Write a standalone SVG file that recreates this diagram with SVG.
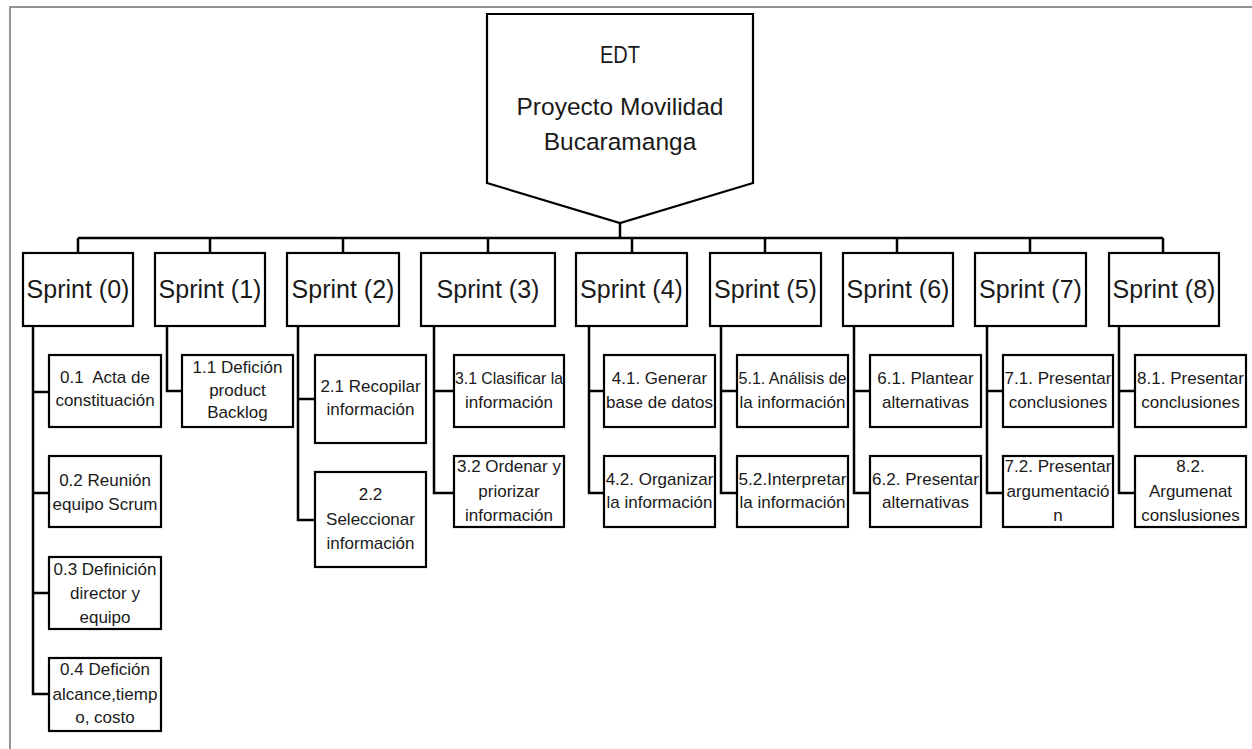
<svg xmlns="http://www.w3.org/2000/svg" width="1252" height="749" viewBox="0 0 1252 749">
<style>
.bg{fill:#fff}
.frame{fill:none;stroke:#707070;stroke-width:1.5}
.box{fill:#fff;stroke:#000;stroke-width:2.2}
.conn{fill:none;stroke:#000;stroke-width:2.5}
.t{font-family:"Liberation Sans",Arial,sans-serif;fill:#1a1a1a;text-anchor:middle}
.sp{font-size:25px}
.root{font-size:24.5px}
.c{font-size:17px}
</style>
<rect class="bg" x="0" y="0" width="1252" height="749"/>
<path class="frame" d="M10 749 V7 H1252"/>

<g id="connectors">
<path class="conn" d="M620 223 V238 M78 238 H1163 M78 238 V253 M210 238 V253 M343 238 V253 M488 238 V253 M632 238 V253 M765 238 V253 M897 238 V253 M1030 238 V253 M1163 238 V253"/>
<path class="conn" d="M33 326 V694 H49 M33 392 H49 M33 493 H49 M33 593 H49"/>
<path class="conn" d="M167 326 V391 H182"/>
<path class="conn" d="M298 326 V520 H315 M298 399 H315"/>
<path class="conn" d="M434 326 V493 H454 M434 391 H454"/>
<path class="conn" d="M589 326 V493 H604 M589 391 H604"/>
<path class="conn" d="M721 326 V493 H737 M721 391 H737"/>
<path class="conn" d="M854 326 V493 H870 M854 391 H870"/>
<path class="conn" d="M987 326 V493 H1003 M987 391 H1003"/>
<path class="conn" d="M1119 326 V493 H1135 M1119 391 H1135"/>
</g>

<g id="root">
<polygon class="box" points="487,14 753,14 753,183 620,223 487,183"/>
<text class="t root" x="620" y="63" textLength="40" lengthAdjust="spacingAndGlyphs">EDT</text>
<text class="t root" x="620" y="115">Proyecto Movilidad</text>
<text class="t root" x="620" y="150">Bucaramanga</text>
</g>

<g id="sprint0"><rect class="box" x="23" y="253" width="110" height="73"/><text class="t sp" x="78" y="298">Sprint (0)</text></g>
<g id="sprint1"><rect class="box" x="155" y="253" width="110" height="73"/><text class="t sp" x="210" y="298">Sprint (1)</text></g>
<g id="sprint2"><rect class="box" x="287" y="253" width="112" height="73"/><text class="t sp" x="343" y="298">Sprint (2)</text></g>
<g id="sprint3"><rect class="box" x="421" y="253" width="134" height="73"/><text class="t sp" x="488" y="298">Sprint (3)</text></g>
<g id="sprint4"><rect class="box" x="576" y="253" width="111" height="73"/><text class="t sp" x="631.5" y="298">Sprint (4)</text></g>
<g id="sprint5"><rect class="box" x="710" y="253" width="111" height="73"/><text class="t sp" x="765.5" y="298">Sprint (5)</text></g>
<g id="sprint6"><rect class="box" x="843" y="253" width="110" height="73"/><text class="t sp" x="898" y="298">Sprint (6)</text></g>
<g id="sprint7"><rect class="box" x="975" y="253" width="111" height="73"/><text class="t sp" x="1030.5" y="298">Sprint (7)</text></g>
<g id="sprint8"><rect class="box" x="1109" y="253" width="110" height="73"/><text class="t sp" x="1164" y="298">Sprint (8)</text></g>

<g id="t0_1"><rect class="box" x="49" y="355" width="112" height="72"/><text class="t c" x="105" y="383" xml:space="preserve">0.1  Acta de</text><text class="t c" x="105" y="406">constituación</text></g>
<g id="t0_2"><rect class="box" x="49" y="456" width="112" height="71"/><text class="t c" x="105" y="486">0.2 Reunión</text><text class="t c" x="105" y="510">equipo Scrum</text></g>
<g id="t0_3"><rect class="box" x="49" y="557" width="112" height="72"/><text class="t c" x="105" y="575">0.3 Definición</text><text class="t c" x="105" y="599">director y</text><text class="t c" x="105" y="623">equipo</text></g>
<g id="t0_4"><rect class="box" x="49" y="658" width="112" height="73"/><text class="t c" x="105" y="675">0.4 Defición</text><text class="t c" x="105" y="700">alcance,tiemp</text><text class="t c" x="105" y="723">o, costo</text></g>

<g id="t1_1"><rect class="box" x="182" y="355" width="111" height="72"/><text class="t c" x="237.5" y="373">1.1 Defición</text><text class="t c" x="237.5" y="396">product</text><text class="t c" x="237.5" y="418">Backlog</text></g>

<g id="t2_1"><rect class="box" x="315" y="355" width="111" height="88"/><text class="t c" x="370.5" y="392">2.1 Recopilar</text><text class="t c" x="370.5" y="415">información</text></g>
<g id="t2_2"><rect class="box" x="315" y="472" width="111" height="95"/><text class="t c" x="370.5" y="500">2.2</text><text class="t c" x="370.5" y="525">Seleccionar</text><text class="t c" x="370.5" y="549">información</text></g>

<g id="t3_1"><rect class="box" x="454" y="355" width="110" height="72"/><text class="t c" x="509" y="384" textLength="108" lengthAdjust="spacingAndGlyphs">3.1 Clasificar la</text><text class="t c" x="509" y="408">información</text></g>
<g id="t3_2"><rect class="box" x="454" y="456" width="110" height="71"/><text class="t c" x="509" y="472">3.2 Ordenar y</text><text class="t c" x="509" y="497">priorizar</text><text class="t c" x="509" y="521">información</text></g>

<g id="t4_1"><rect class="box" x="604" y="355" width="111" height="72"/><text class="t c" x="659.5" y="384">4.1. Generar</text><text class="t c" x="659.5" y="408">base de datos</text></g>
<g id="t4_2"><rect class="box" x="604" y="456" width="111" height="71"/><text class="t c" x="659.5" y="485">4.2. Organizar</text><text class="t c" x="659.5" y="508">la información</text></g>

<g id="t5_1"><rect class="box" x="737" y="355" width="111" height="72"/><text class="t c" x="792.5" y="384" textLength="108" lengthAdjust="spacingAndGlyphs">5.1. Análisis de</text><text class="t c" x="792.5" y="408">la información</text></g>
<g id="t5_2"><rect class="box" x="737" y="456" width="111" height="71"/><text class="t c" x="792.5" y="485" textLength="108" lengthAdjust="spacingAndGlyphs">5.2.Interpretar</text><text class="t c" x="792.5" y="508">la información</text></g>

<g id="t6_1"><rect class="box" x="870" y="355" width="111" height="72"/><text class="t c" x="925.5" y="384">6.1. Plantear</text><text class="t c" x="925.5" y="408">alternativas</text></g>
<g id="t6_2"><rect class="box" x="870" y="456" width="111" height="71"/><text class="t c" x="925.5" y="485">6.2. Presentar</text><text class="t c" x="925.5" y="508">alternativas</text></g>

<g id="t7_1"><rect class="box" x="1003" y="355" width="110" height="72"/><text class="t c" x="1058" y="384">7.1. Presentar</text><text class="t c" x="1058" y="408">conclusiones</text></g>
<g id="t7_2"><rect class="box" x="1003" y="456" width="110" height="71"/><text class="t c" x="1058" y="472">7.2. Presentar</text><text class="t c" x="1058" y="497">argumentació</text><text class="t c" x="1058" y="521">n</text></g>

<g id="t8_1"><rect class="box" x="1135" y="355" width="111" height="72"/><text class="t c" x="1190.5" y="384">8.1. Presentar</text><text class="t c" x="1190.5" y="408">conclusiones</text></g>
<g id="t8_2"><rect class="box" x="1135" y="456" width="111" height="71"/><text class="t c" x="1190.5" y="472">8.2.</text><text class="t c" x="1190.5" y="497">Argumenat</text><text class="t c" x="1190.5" y="521">conslusiones</text></g>
</svg>
